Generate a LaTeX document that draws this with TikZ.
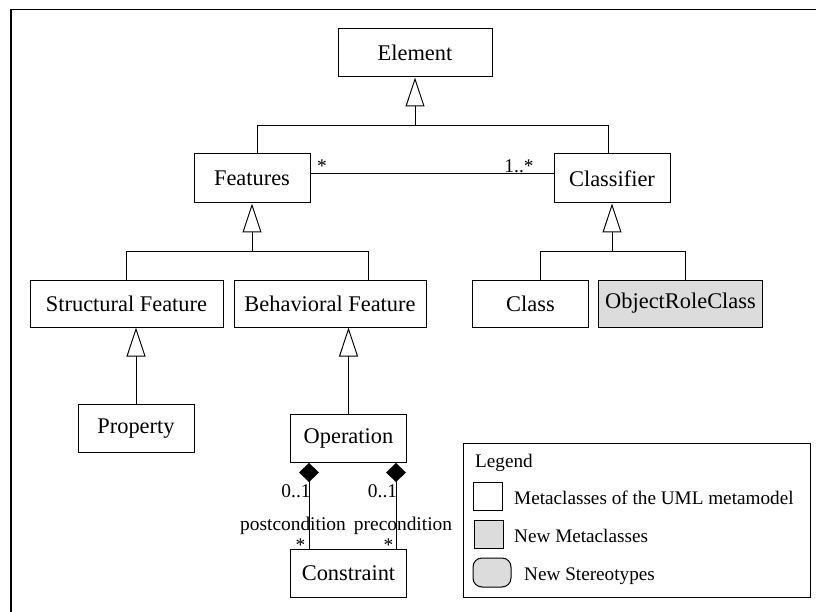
\documentclass[tikz,border=0pt]{standalone}
\usepackage{fontspec}
\setmainfont{Liberation Serif}
\usetikzlibrary{arrows.meta,positioning}
\definecolor{newgray}{HTML}{DCDCDC}

\begin{document}
\begin{tikzpicture}[x=1pt, y=-1pt, node distance=10pt,
    every node/.append style={align=center, inner sep=0pt},
    int/.style={draw, line width=1pt, minimum width=116pt, minimum height=48pt,
                font=\fontsize{22.4}{26}\selectfont},
    lbl/.style={anchor=base, font=\fontsize{19.4}{23}\selectfont},
    leg/.style={anchor=base west, font=\fontsize{19.2}{23}\selectfont},
    inh/.style={-{Triangle[open, length=29pt, width=19pt]}, line width=1pt, line join=miter},
    comp/.style={{Diamond[length=19pt, width=20pt]}-, line width=1pt}]
   \useasboundingbox (0,0) rectangle (816,612);
   \draw[line width=1.6pt] (11,612) |- (816,9.7);

   % classes
   \node [int, minimum width=154pt] (elem) at (415,53) {Element};
   \node [int, minimum height=49pt] (feat) at (252,178.5) {Features};
   \node [int, minimum height=49pt] (clsf) at (612,178.5) {Classifier};
   \node [int, minimum width=193pt, minimum height=47pt] (sf) at (126.5,303.5) {Structural Feature};
   \node [int, minimum width=192pt, minimum height=47pt, right=of sf] (bf) {Behavioral Feature};
   \node [int, minimum height=47pt] (cls) at (530.5,303.5) {Class};
   \node [int, minimum width=164pt, minimum height=47pt, fill=newgray, right=9pt of cls] (orc) {ObjectRoleClass};
   \node [int] (prop) at (136,428.5) {Property};
   \node [int] (oper) at (348.5,438.5) {Operation};
   \node [int] (cons) at (348.5,573.5) {Constraint};

   % generalizations
   \path (elem.south) ++(0,48) coordinate (j1);
   \path (feat.south) ++(0,48) coordinate (j2);
   \path (clsf.south) ++(0,48) coordinate (j3);
   \draw[inh] (j1) -- (elem);
   \draw[line width=1pt] ([xshift=5pt]feat.north) |- (j1) -| ([xshift=-3.5pt]clsf.north);
   \draw[inh] (j2) -- (feat);
   \draw[line width=1pt] (sf.north) |- (j2) -| ([xshift=38.5pt]bf.north);
   \draw[inh] (j3) -- (clsf);
   \draw[line width=1pt] ([xshift=10pt]cls.north) |- (j3) -| ([xshift=5pt]orc.north);
   \draw[inh] (prop.north) -- (prop.north |- sf.south);
   \draw[inh] (oper.north) -- (oper.north |- bf.south);

   % associations
   \draw[line width=1pt] ([yshift=4.5pt]feat.east) -- ([yshift=4.5pt]clsf.west);
   \node [lbl] (mf) at (322,173) {*};
   \node [lbl] (mc) at (519,173) {1..*};
   \draw[comp] ([xshift=-39.5pt]oper.south) -- ([xshift=-39.5pt]cons.north);
   \draw[comp] ([xshift=47.5pt]oper.south) -- ([xshift=47.5pt]cons.north);
   \node [lbl] (mpo) at (296,497) {0..1};
   \node [lbl] (mpr) at (382.5,497) {0..1};
   \node [lbl] (post) at (293,530) {postcondition};
   \node [lbl] (pre) at (403,530) {precondition};
   \node [lbl] (spo) at (300.5,551) {*};
   \node [lbl] (spr) at (388.5,551) {*};

   % legend
   \draw[line width=1pt] (463,443) rectangle (810,597);
   \node [leg] (legt) at (475,467) {Legend};
   \draw[line width=1pt] (473,482) rectangle (502,510);
   \node [leg] (legm) at (514,504) {Metaclasses of the UML metamodel};
   \draw[line width=1pt, fill=newgray] (474,520) rectangle (503,548);
   \node [leg] (legn) at (514,542) {New Metaclasses};
   \draw[line width=1pt, fill=newgray, rounded corners=9pt] (473,558) rectangle (511,587);
   \node [leg] (legs) at (524,580) {New Stereotypes};
\end{tikzpicture}
\end{document}
